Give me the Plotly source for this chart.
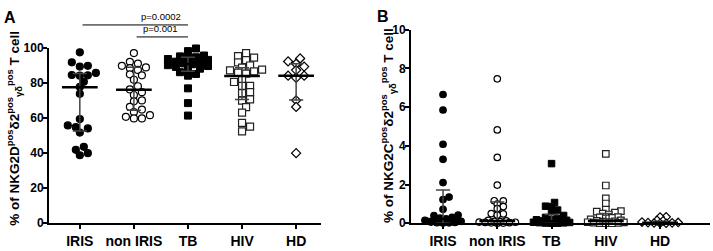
import plotly.graph_objects as go

categories = ["IRIS", "non IRIS", "TB", "HIV", "HD"]

# Panel A: % NKG2D+ of Vδ2+ γδ T cells
a_iris = [97.3, 91.6, 89.2, 89.6, 84.4, 84.0, 85.6, 84.2, 80.5, 77.6, 73.7, 59.3,
          55.7, 54.0, 51.6, 54.7, 41.8, 38.7, 39.9, 43.5]
a_noniris = [96.9, 91.9, 90.9, 89.6, 88.3, 88.7, 87.3, 84.8, 84.2, 81.7, 78.0, 76.2,
             74.6, 73.0, 69.9, 69.4, 66.3, 64.7, 63.3, 60.6, 61.5, 59.7, 59.7]
a_tb = [99.5, 98.0, 95.5, 95.0, 94.5, 94.0, 93.5, 93.0, 92.0, 91.5, 91.0, 90.5, 90.0,
        89.5, 89.0, 88.0, 87.5, 86.0, 85.0, 84.0, 76.8, 68.4, 61.3]
a_hiv = [96.8, 95.2, 94.3, 92.9, 91.6, 89.8, 88.6, 87.5, 87.0, 86.5, 85.8, 85.2, 82.1,
         80.4, 78.2, 78.2, 74.1, 74.6, 69.8, 70.5, 66.1, 63.0, 57.1, 55.0, 52.3]
a_hd = [93.8, 90.8, 89.2, 92.1, 87.2, 84.0, 82.8, 84.0, 70.0, 66.2, 39.9]
a_median = [77.4, 76.0, 90.7, 83.8, 84.0]
a_q1 = [52.5, 64.3, 86.5, 70.4, 70.2]
a_q3 = [85.2, 88.8, 94.5, 88.5, 90.8]

# Panel B: % NKG2C+ of Vδ2+ γδ T cells
b_iris = [6.65, 5.85, 4.08, 3.30, 2.10, 1.35, 1.22, 0.72, 0.42, 0.40, 0.30, 0.26, 0.22,
          0.15, 0.10, 0.06, 0.04, 0.03, 0.02, 0.01]
b_noniris = [7.46, 4.82, 3.40, 1.97, 1.16, 1.15, 0.99, 0.86, 0.75, 0.50, 0.48, 0.42,
             0.15, 0.12, 0.10, 0.08, 0.06, 0.05, 0.04, 0.03, 0.02, 0.01, 0.0]
b_tb = [3.08, 1.07, 0.88, 0.86, 0.68, 0.62, 0.40, 0.30, 0.25, 0.20, 0.18, 0.15, 0.12,
        0.10, 0.08, 0.06, 0.05, 0.04, 0.03, 0.02, 0.01, 0.0, 0.0]
b_hiv = [3.58, 1.95, 1.28, 1.02, 0.70, 0.62, 0.60, 0.55, 0.50, 0.45, 0.32, 0.30, 0.28,
         0.25, 0.20, 0.15, 0.12, 0.10, 0.08, 0.06, 0.05, 0.04, 0.03, 0.02, 0.01, 0.0, 0.0]
b_hd = [0.33, 0.32, 0.15, 0.12, 0.06, 0.04, 0.03, 0.02, 0.01, 0.0, 0.0]
b_median = [0.22, 0.12, 0.10, 0.12, 0.02]
b_q1 = [0.0, 0.0, 0.0, 0.0, 0.0]
b_q3 = [1.72, 1.10, 0.45, 0.50, 0.10]

p_labels = ["p=0.0002", "p=0.001"]

W, H = 713, 251
FONT = "Liberation Sans, Arial, sans-serif"

styles = [
    dict(symbol="circle", color="black", line=dict(color="black", width=1.2)),
    dict(symbol="circle", color="white", line=dict(color="black", width=1.2)),
    dict(symbol="square", color="black", line=dict(color="black", width=1.0)),
    dict(symbol="square", color="white", line=dict(color="#222", width=1.2)),
    dict(symbol="diamond", color="white", line=dict(color="black", width=1.2)),
]


def swarm(values, px_per_unit, d, step, maxk, px_per_cat):
    """Simple beeswarm: returns horizontal offsets in category units."""
    order = sorted(range(len(values)), key=lambda i: values[i])
    placed = []
    offs = [0.0] * len(values)
    cands = [0.0]
    for k in range(1, maxk + 1):
        cands += [k * step, -k * step]
    for i in order:
        y = values[i] * px_per_unit
        chosen = None
        for c in cands:
            if all((c - px) ** 2 + (y - py) ** 2 >= d * d for px, py in placed):
                chosen = c
                break
        if chosen is None:
            best, bestd = 0.0, -1
            for c in cands:
                md = min(((c - px) ** 2 + (y - py) ** 2) for px, py in placed)
                if md > bestd:
                    best, bestd = c, md
            chosen = best
        placed.append((chosen, y))
        offs[i] = chosen / px_per_cat
    return offs


fig = go.Figure()

panels = [
    dict(data=[a_iris, a_noniris, a_tb, a_hiv, a_hd], med=a_median, q1=a_q1, q3=a_q3,
         xa="x", ya="y", ppu=186 / 100, d=6.5, step=4.0, maxk=5, size=7),
    dict(data=[b_iris, b_noniris, b_tb, b_hiv, b_hd], med=b_median, q1=b_q1, q3=b_q3,
         xa="x2", ya="y2", ppu=205 / 10, d=4.5, step=3.0, maxk=6, size=6.5),
]

for p in panels:
    for gi, vals in enumerate(p["data"]):
        offs = swarm(vals, p["ppu"], p["d"], p["step"], p["maxk"], 54.0)
        st = styles[gi]
        fig.add_trace(go.Scatter(
            x=[gi + o for o in offs], y=vals, mode="markers",
            xaxis=p["xa"], yaxis=p["ya"], cliponaxis=False, showlegend=False,
            marker=dict(symbol=st["symbol"], size=p["size"], color=st["color"],
                        line=st["line"]),
        ))
    # median + interquartile range
    mx, my, wx, wy = [], [], [], []
    for gi in range(5):
        mx += [gi - 0.33, gi + 0.33, None]
        my += [p["med"][gi], p["med"][gi], None]
        wx += [gi, gi, None, gi - 0.13, gi + 0.13, None, gi - 0.13, gi + 0.13, None]
        wy += [p["q1"][gi], p["q3"][gi], None, p["q3"][gi], p["q3"][gi], None,
               p["q1"][gi], p["q1"][gi], None]
    fig.add_trace(go.Scatter(x=wx, y=wy, mode="lines", xaxis=p["xa"], yaxis=p["ya"],
                             line=dict(color="#444", width=1.5), showlegend=False,
                             hoverinfo="skip"))
    fig.add_trace(go.Scatter(x=mx, y=my, mode="lines", xaxis=p["xa"], yaxis=p["ya"],
                             line=dict(color="black", width=2.5), showlegend=False,
                             hoverinfo="skip"))

ybot = 1 - 229 / H
axis_common = dict(showline=True, linecolor="black", linewidth=2, ticks="outside",
                   ticklen=4, tickwidth=2, tickcolor="black", showgrid=False,
                   zeroline=False, fixedrange=True, ticklabeloverflow="allow")
xfont = dict(family=FONT, size=14, color="black", weight="bold")
yfont = dict(family=FONT, size=12, color="black", weight="bold")

fig.update_layout(
    width=W, height=H, autosize=False, margin=dict(l=0, r=0, t=0, b=0),
    paper_bgcolor="white", plot_bgcolor="white",
    xaxis=dict(domain=[49 / W, 321 / W], range=[-0.57, 4.46], tickvals=list(range(5)),
               ticktext=categories, tickfont=xfont, anchor="y", **axis_common),
    yaxis=dict(domain=[ybot, 1 - 43 / H], range=[0, 100], dtick=20, tickfont=yfont,
               anchor="x", ticklabelstandoff=-3, **axis_common),
    xaxis2=dict(domain=[411 / W, 710 / W], range=[-0.59, 4.92], tickvals=list(range(5)),
                ticktext=categories, tickfont=xfont, anchor="y2", **axis_common),
    yaxis2=dict(domain=[ybot, 1 - 24 / H], range=[0, 10], dtick=2, tickfont=yfont,
                anchor="x2", ticklabelstandoff=-3, **axis_common),
)

title_font = dict(family=FONT, size=13.5, color="black", weight="bold")
fig.add_annotation(xref="paper", yref="paper", x=14 / W, y=1 - 129 / H, textangle=-90,
                   xanchor="center", yanchor="middle",
                   showarrow=False, font=title_font,
                   text="% of NKG2D<sup>pos</sup>δ2<sup>pos</sup><sub>γδ</sub><sup>pos</sup> T cell")
fig.add_annotation(xref="paper", yref="paper", x=388 / W, y=1 - 126 / H, textangle=-90,
                   xanchor="center", yanchor="middle",
                   showarrow=False, font=title_font,
                   text="% of NKG2C<sup>pos</sup>δ2<sup>pos</sup><sub>γδ</sub><sup>pos</sup> T cell")
fig.add_annotation(xref="paper", yref="paper", x=9.5 / W, y=1 - 11 / H, text="A",
                   xanchor="center", yanchor="middle",
                   showarrow=False, font=dict(family=FONT, size=16, color="black", weight="bold"))
fig.add_annotation(xref="paper", yref="paper", x=383 / W, y=1 - 10 / H, text="B",
                   xanchor="center", yanchor="middle",
                   showarrow=False, font=dict(family=FONT, size=16, color="black", weight="bold"))

# significance brackets
brackets = [(0, 2, 19, p_labels[0]), (1, 2, 31.7, p_labels[1])]
for x0, x1, ypx, lab in brackets:
    fig.add_shape(type="line", xref="x", yref="paper", x0=x0 + 0.05, x1=x1,
                  y0=1 - ypx / H, y1=1 - ypx / H, line=dict(color="black", width=1))
    fig.add_annotation(xref="x", yref="paper", x=1.5, y=1 - (ypx - 0.5) / H,
                       xanchor="center", yanchor="bottom", text=lab, showarrow=False,
                       font=dict(family=FONT, size=9.5, color="black"))

fig.write_html("out.html", config={"displayModeBar": False},
               post_script="document.body.style.margin='0';document.body.style.padding='0';")
